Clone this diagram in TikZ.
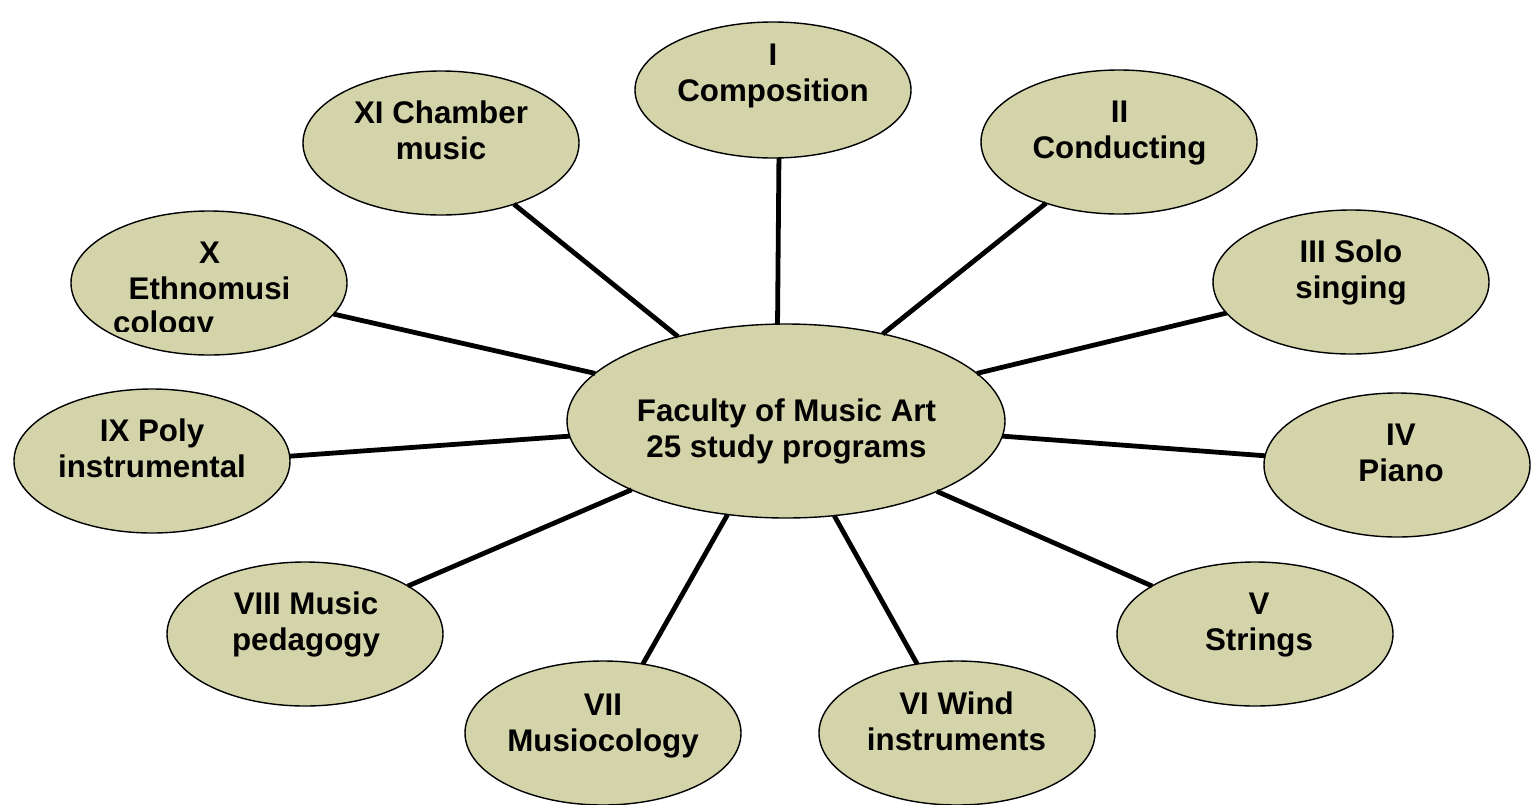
\documentclass[tikz,border=0pt]{standalone}
\usepackage{fontspec}
\setmainfont{Liberation Sans}
\usetikzlibrary{shapes.geometric}
\definecolor{leaffill}{RGB}{212,212,170}
\begin{document}
\begin{tikzpicture}[x=1pt,y=-1pt,
  oval/.style={ellipse, draw=black, line width=1.4pt, fill=leaffill, inner sep=0pt, outer sep=0pt, minimum width=276pt, minimum height=144pt},
  hub/.style={oval, minimum width=438pt, minimum height=194pt},
  lbl/.style={align=center, font=\fontsize{31.3}{36}\selectfont\bfseries, inner sep=0pt, execute at begin node=\strut, execute at end node=\strut},
  conn/.style={line width=4.8pt}]
\useasboundingbox (0,0) rectangle (1531,804);
% ellipses
\node[hub] (c) at (786,421) {};
\node[oval, minimum height=136pt] (n1) at (773,90) {};
\node[oval] (n2) at (1119,142) {};
\node[oval] (n3) at (1351,282) {};
\node[oval, minimum width=266pt] (n4) at (1397,465) {};
\node[oval] (n5) at (1255,634) {};
\node[oval] (n6) at (957,733) {};
\node[oval] (n7) at (603,733) {};
\node[oval] (n8) at (305,634) {};
\node[oval] (n9) at (152,461) {};
\node[oval] (n10) at (209,283) {};
\node[oval] (n11) at (441,143) {};
% labels
\node[lbl] (t1) at (773,78) {I\\Composition};
\node[lbl] (t2) at (1119.5,135) {II\\Conducting};
\node[lbl] (t3) at (1351,275) {III Solo\\singing};
\node[lbl] (t4) at (1401,458) {IV\\Piano};
\node[lbl] (t5) at (1259,627) {V\\Strings};
\node[lbl] (t6) at (956.5,727) {VI Wind\\instruments};
\node[lbl] (t7) at (603,728) {VII\\Musiocology};
\node[lbl] (t8) at (306,627) {VIII Music\\pedagogy};
\node[lbl] (t9) at (152,454) {IX Poly\\instrumental};
\node[lbl] (t10) at (209.5,276) {X\\Ethnomusi};
\begin{scope}
  \clip (60,200) rectangle (360,331);
  \node[lbl, anchor=base west] (t10b) at (113,333) {cology};
\end{scope}
\node[lbl] (t11) at (441,136) {XI Chamber\\music};
\node[lbl] (tc) at (786.5,434) {Faculty of Music Art\\25 study programs};
% connectors
\draw[conn] (c.95) -- (n1.-85);
\draw[conn] (c.42) -- (n2.220);
\draw[conn] (c.14) -- (n3.194);
\draw[conn] (c.-4) -- (n4.176);
\draw[conn] (c.-25) -- (n5.155);
\draw[conn] (c.-63) -- (n6.120);
\draw[conn] (c.238) -- (n7.60);
\draw[conn] (c.204) -- (n8.25);
\draw[conn] (c.184) -- (n9.2);
\draw[conn] (c.166) -- (n10.-14);
\draw[conn] (c.142) -- (n11.-40);
\end{tikzpicture}
\end{document}
